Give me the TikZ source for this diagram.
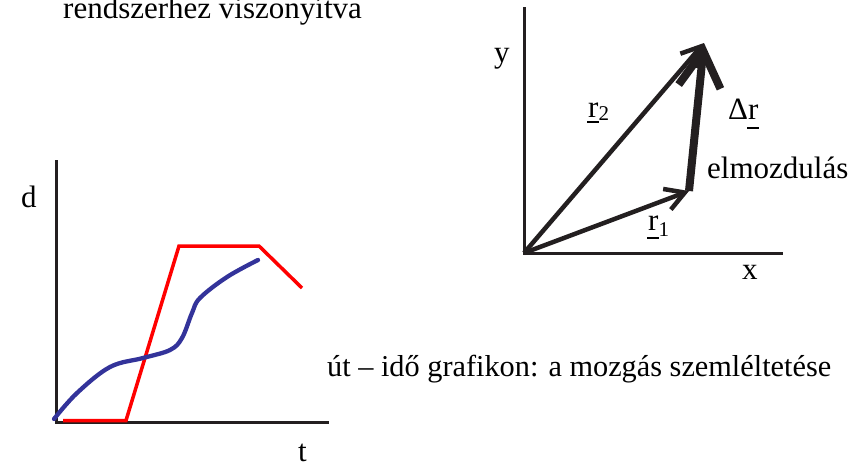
\documentclass[tikz,border=0pt]{standalone}
\usepackage{fontspec}
\setmainfont{Liberation Serif}
\usetikzlibrary{arrows.meta}
\definecolor{ink}{HTML}{231F20}
\definecolor{curveblue}{HTML}{33339A}
\definecolor{curvered}{HTML}{FF0000}
\newcommand{\subsz}[1]{{\fontsize{21}{21}\selectfont #1}}
\newcommand{\ulr}[1]{\rlap{\hspace{-1pt}\rule[-#1]{12pt}{1.8pt}}r}
\begin{document}
\begin{tikzpicture}[x=1pt,y=-1pt,
  lbl/.style={inner sep=0pt, anchor=base west, font=\fontsize{31}{36}\selectfont},
  axis/.style={line width=3pt, ink},
  vec/.style={line width=4.5pt, ink, -{Straight Barb[length=19pt,width=22pt]}},
  disp/.style={line width=8pt, ink, -{Straight Barb[length=36pt,width=42pt]}},
]
\useasboundingbox (0,0) rectangle (868,466);

% texts
\node[lbl] (top) at (63,18.5) {rendszerhez viszonyítva};
\node[lbl, font=\fontsize{30.3}{36}\selectfont] (cap) at (327,376) {út – idő grafikon: a mozgás szemléltetése};

% left graph
\coordinate (dTop) at (56,160);
\coordinate (dO) at (56,422);
\coordinate (dEnd) at (329,422);
\draw[axis] (dTop) -- (dO) -- (dEnd);
\node[lbl] (dl) at (21,207) {d};
\node[lbl] (tl) at (298,461) {t};

\coordinate (ra) at (63,420.5);
\coordinate (rb) at (126,420.5);
\coordinate (rc) at (179,246);
\coordinate (rd) at (259,246);
\coordinate (re) at (302,288);
\draw[curvered, line width=3.5pt] (ra) -- (rb) -- (rc) -- (rd) -- (re);

\draw[curveblue, line width=4.3pt, line cap=round] plot[smooth, tension=0.6] coordinates
  {(54,419) (77,393) (110,367) (143,358) (170,350) (182,338) (192,313) (200,298) (227,277) (258,260)};

% right diagram
\coordinate (O) at (524,253);
\coordinate (yTop) at (524,7);
\coordinate (xEnd) at (783,253);
\coordinate (P1) at (689,191);
\coordinate (P2) at (704,43);
\draw[axis] (yTop) -- (O) -- (xEnd);
\draw[vec] (O) -- (P1);
\draw[vec] (O) -- (P2);
\draw[disp] (P1) -- (P2);

\node[lbl] (yl) at (494,62) {y};
\node[lbl] (xl) at (742,279) {x};
\node[lbl] (r2) at (588,117) {\ulr{6pt}\raisebox{-3pt}{\subsz{2}}};
\node[lbl] (dr) at (728,119) {Δ\ulr{10pt}};
\node[lbl] (r1) at (648,230) {\ulr{9pt}\raisebox{-6pt}{\subsz{1}}};
\node[lbl] (el) at (707,178) {elmozdulás};
\end{tikzpicture}
\end{document}
